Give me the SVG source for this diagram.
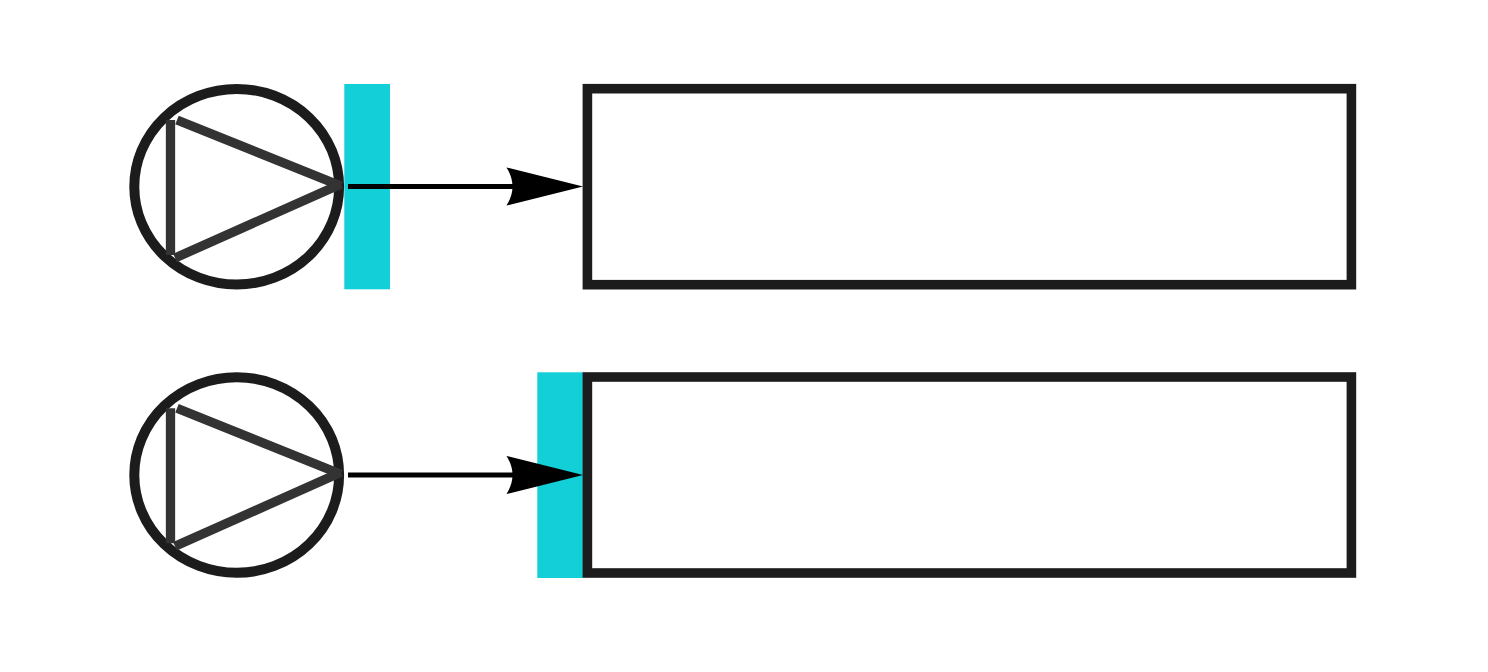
<svg xmlns="http://www.w3.org/2000/svg" xmlns:xlink="http://www.w3.org/1999/xlink" width="1488" height="672" viewBox="0 0 1488 672">
<style>
.bar{fill:#12cfd8}
.ring{fill:none;stroke:#1c1c1c;stroke-width:10}
.tri{fill:none;stroke:#333;stroke-width:9.3}
.box{fill:#fff;stroke:#1c1c1c;stroke-width:9.6}
.wire{fill:none;stroke:#000;stroke-width:5;marker-end:url(#head)}
</style>
<defs>
<marker id="head" markerUnits="userSpaceOnUse" markerWidth="80" markerHeight="44" refX="6.5" refY="22" orient="auto" overflow="visible">
<path d="M0,3 Q12,22 0,41 L76.5,22 Z" fill="#000"/>
</marker>
<g id="pump">
<ellipse class="ring" cx="236.7" cy="186.7" rx="102.4" ry="97.8"/>
<path class="tri" d="M170.5,120V255"/>
<path class="tri" d="M177,120L341,186"/>
<path class="tri" d="M175,258L341,184"/>
</g>
</defs>
<rect width="1488" height="672" fill="#fff"/>
<g id="source-bar"><rect class="bar" x="344.3" y="84" width="45.7" height="205.3"/></g>
<g id="pump-1"><use xlink:href="#pump" href="#pump"/></g>
<g id="box-1"><rect class="box" x="587.4" y="88.7" width="764" height="196"/></g>
<g id="pump-2"><use xlink:href="#pump" href="#pump" y="288.3"/></g>
<g id="target-bar"><rect class="bar" x="537.3" y="372.3" width="45.7" height="205.7"/></g>
<g id="box-2"><rect class="box" x="587.4" y="377" width="764" height="196"/></g>
<g id="connectors">
<path class="wire" d="M348,186.5H513"/>
<path class="wire" d="M348,475H513"/>
</g>
</svg>
